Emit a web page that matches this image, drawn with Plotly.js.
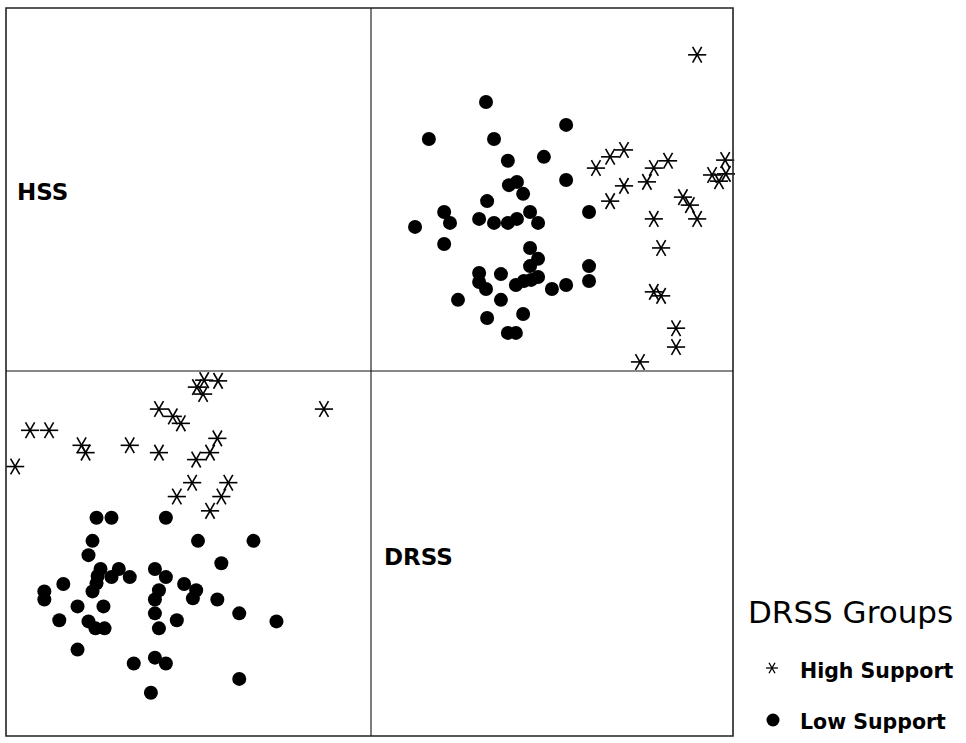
<!DOCTYPE html>
<html>
<head>
<meta charset="utf-8">
<script src="https://cdn.plot.ly/plotly-3.0.1.min.js"></script>
<style>html,body{margin:0;padding:0;background:#fff;}#chart{width:966px;height:743px;}</style>
</head>
<body>
<div id="chart"></div>
<script>
// DRSS Groups: High Support (stars)
var highDRSS = [89.6, 61.8, 65.7, 69.5, 69.5, 75.8, 77.7, 81.6, 97.3, 93.7, 97.5, 95.6, 65.7, 85.7, 87.6, 77.7, 89.6, 79.7, 77.7, 79.7, 83.8, 83.8, 73.9];
var highHSS  = [87.1, 55.9, 59.0, 60.9, 51.0, 52.1, 55.9, 57.9, 58.1, 54.0, 54.3, 52.3, 46.8, 47.9, 45.7, 41.9, 41.9, 33.9, 21.8, 20.7, 11.8, 6.6, 2.5];
// DRSS Groups: Low Support (circles)
var lowDRSS = [31.6, 15.9, 33.8, 53.6, 37.6, 47.5, 53.6, 37.9, 40.1, 41.8, 31.9, 59.9, 20.1, 21.7, 12.1, 29.7, 33.8, 37.6, 40.1, 43.7, 45.9, 20.1, 43.7, 45.9, 43.7, 29.7, 35.7, 29.7, 31.6, 39.8, 42.0, 44.0, 45.9, 49.7, 53.6, 59.9, 59.9, 23.9, 35.7, 31.9, 41.8, 37.6, 39.8];
var lowHSS  = [74.1, 63.9, 63.9, 67.8, 57.9, 59.0, 52.6, 51.2, 52.1, 48.8, 46.8, 43.8, 43.8, 40.8, 39.7, 41.9, 40.8, 40.8, 41.9, 43.8, 40.8, 35.0, 33.9, 30.9, 28.9, 27.0, 26.7, 24.5, 22.6, 23.7, 24.8, 25.1, 25.9, 22.6, 23.7, 28.9, 24.8, 19.6, 19.6, 14.6, 15.7, 10.5, 10.5];

var groupNames = ['High Support', 'Low Support'];
var legendTitle = 'DRSS Groups';
var varNames = ['HSS', 'DRSS'];

var starAngles = [0, 60, -60];
var traces = [];
// panels: top-right (x=DRSS, y=HSS) and bottom-left (x=HSS, y=DRSS)
var panels = [
  {xa: 'x2', ya: 'y2', hx: highDRSS, hy: highHSS, lx: lowDRSS, ly: lowHSS},
  {xa: 'x',  ya: 'y',  hx: highHSS, hy: highDRSS, lx: lowHSS, ly: lowDRSS}
];
panels.forEach(function (p) {
  traces.push({
    type: 'scatter', mode: 'markers', x: p.lx, y: p.ly, xaxis: p.xa, yaxis: p.ya,
    name: groupNames[1], showlegend: false, cliponaxis: false,
    marker: {symbol: 'circle', size: 14, color: '#000', line: {width: 0}}
  });
  starAngles.forEach(function (a) {
    traces.push({
      type: 'scatter', mode: 'markers', x: p.hx, y: p.hy, xaxis: p.xa, yaxis: p.ya,
      name: groupNames[0], showlegend: false, cliponaxis: false,
      marker: {symbol: 'line-ew-open', size: 13, angle: a, color: '#000', line: {width: 1.6, color: '#000'}}
    });
  });
});

var L = 6, R = 733, T = 8, B = 736, MX = 371, MY = 371;
var W = R - L, H = B - T;
function px(x) { return (x - L) / W; }
function py(y) { return (B - y) / H; }
var xs = px(MX), ys = py(MY);

var hidden = {showgrid: false, zeroline: false, showticklabels: false, ticks: '', showline: false, fixedrange: true};
function ax(o) { return Object.assign({}, hidden, o); }

var shapes = [
  {type: 'rect', xref: 'paper', yref: 'paper', x0: 0, x1: 1, y0: 0, y1: 1, line: {color: '#222', width: 1.6}},
  {type: 'line', xref: 'paper', yref: 'paper', x0: xs, x1: xs, y0: 0, y1: 1, line: {color: '#111', width: 1.1}},
  {type: 'line', xref: 'paper', yref: 'paper', x0: 0, x1: 1, y0: ys, y1: ys, line: {color: '#111', width: 1.1}}
];
// legend keys
var starX = px(772), starY = py(668);
[[-6, 0, 6, 0], [-3, -5.2, 3, 5.2], [-3, 5.2, 3, -5.2]].forEach(function (s) {
  shapes.push({type: 'line', xref: 'paper', yref: 'paper', xsizemode: 'pixel', ysizemode: 'pixel',
    xanchor: starX, yanchor: starY, x0: s[0], x1: s[2], y0: s[1], y1: s[3], line: {color: '#000', width: 1.3}});
});
var cirX = px(773), cirY = py(720);
shapes.push({type: 'circle', xref: 'paper', yref: 'paper', xsizemode: 'pixel', ysizemode: 'pixel',
  xanchor: cirX, yanchor: cirY, x0: -6.5, x1: 6.5, y0: -6.5, y1: 6.5, fillcolor: '#000', line: {width: 0}});

var fam = 'DejaVu Sans, Arial, sans-serif';
var annotations = [
  {xref: 'paper', yref: 'paper', x: px(15), y: py(192), xanchor: 'left', yanchor: 'middle', showarrow: false,
   text: '<b>' + varNames[0] + '</b>', font: {family: fam, size: 23, color: '#000'}},
  {xref: 'paper', yref: 'paper', x: px(382), y: py(557), xanchor: 'left', yanchor: 'middle', showarrow: false,
   text: '<b>' + varNames[1] + '</b>', font: {family: fam, size: 23, color: '#000'}},
  {xref: 'paper', yref: 'paper', x: px(746), y: py(612), xanchor: 'left', yanchor: 'middle', showarrow: false,
   text: legendTitle, font: {family: fam, size: 31, color: '#000'}},
  {xref: 'paper', yref: 'paper', x: px(798), y: py(671), xanchor: 'left', yanchor: 'middle', showarrow: false,
   text: '<b>' + groupNames[0] + '</b>', font: {family: fam, size: 20.5, color: '#000'}},
  {xref: 'paper', yref: 'paper', x: px(798), y: py(722), xanchor: 'left', yanchor: 'middle', showarrow: false,
   text: '<b>' + groupNames[1] + '</b>', font: {family: fam, size: 20.5, color: '#000'}}
];

var layout = {
  width: 966, height: 743,
  margin: {l: L, r: 966 - R, t: T, b: 743 - B, pad: 0},
  paper_bgcolor: '#fff', plot_bgcolor: '#fff',
  showlegend: false,
  xaxis: ax({domain: [0, xs], range: [0, 100], anchor: 'y'}),
  yaxis: ax({domain: [0, ys], range: [0.3, 100], anchor: 'x'}),
  xaxis2: ax({domain: [xs, 1], range: [0, 99.45], anchor: 'y2'}),
  yaxis2: ax({domain: [ys, 1], range: [0, 100], anchor: 'x2'}),
  shapes: shapes,
  annotations: annotations
};

Plotly.newPlot('chart', traces, layout, {staticPlot: true, displayModeBar: false});
</script>
</body>
</html>
